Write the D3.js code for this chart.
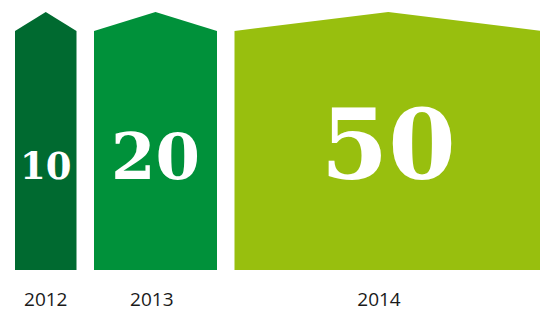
<!DOCTYPE html>
<html>
<head>
<meta charset="utf-8">
<script src="https://cdn.jsdelivr.net/npm/d3@7"></script>
<style>
  html, body { margin: 0; padding: 0; background: #fff; }
  svg { display: block; }
</style>
</head>
<body>
<svg width="540" height="311"></svg>
<script>
// data
const years = ['2012', '2013', '2014'];
const values = [10, 20, 50];
const colors = ['#006a30', '#00913a', '#98bf0e'];

const svg = d3.select('svg');
const left = 15, gap = 17.5;
const unit = 6.15;
const bottom = 270, shoulder = 31, peak = 12;

// width of each block follows its value
const w = d3.scaleLinear().domain([0, 1]).range([0, unit]);
let cursor = left;
const blocks = years.map((yr, i) => {
  const x0 = cursor, x1 = cursor + w(values[i]);
  cursor = x1 + gap;
  return { yr, v: values[i], c: colors[i], x0, x1 };
});

const y = d3.scaleLinear().domain([0, 1]).range([bottom, shoulder]);
const fontSize = d3.scaleLinear().domain([10, 20, 50]).range([37, 64, 97]);

const g = svg.selectAll('.block')
  .data(blocks)
  .enter()
  .append('g')
  .attr('class', 'block');

g.append('path')
  .attr('fill', (d) => d.c)
  .attr('d', (d) => {
    const mid = (d.x0 + d.x1) / 2;
    return d3.line()([
      [d.x0, y(0)], [d.x0, y(1)], [mid, peak], [d.x1, y(1)], [d.x1, y(0)]
    ]) + 'Z';
  });

g.append('text')
  .text((d) => d.v)
  .attr('x', (d) => (d.x0 + d.x1) / 2)
  .attr('y', 179)
  .attr('text-anchor', 'middle')
  .attr('fill', '#fff')
  .attr('font-family', 'DejaVu Serif')
  .attr('font-weight', 'bold')
  .attr('font-size', (d) => fontSize(d.v) + 'px');

// year labels sit a little left of centre in the original
g.append('text')
  .text((d) => d.yr)
  .attr('x', (d) => d.x0 + (d.x1 - d.x0) * (d.v > 10 ? 0.47 : 0.5))
  .attr('y', 306)
  .attr('text-anchor', 'middle')
  .attr('fill', '#1a1a1a')
  .attr('font-family', 'Open Sans')
  .attr('font-size', '19px');
</script>
</body>
</html>
